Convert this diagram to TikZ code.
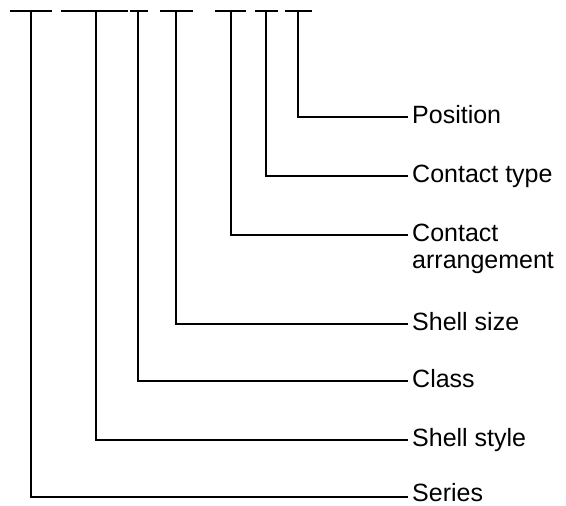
\documentclass[tikz,border=0pt]{standalone}
\usepackage{fontspec}
\setmainfont{Liberation Sans}
\usepackage{tikz}

\begin{document}
\begin{tikzpicture}[x=1pt,y=-1pt,
		label_style/.style={anchor=base west,inner sep=0pt,xshift=4pt,yshift=-6pt,align=left,font=\fontsize{25}{27}\selectfont},
		bar_style/.style={draw=black,line width=1.1pt},
		edge_style/.style={draw=black,line width=1.1pt}]

		\useasboundingbox (0,0) rectangle (566,506);

		% code bars on top
		\coordinate (b1l) at (10,11);  \coordinate (b1r) at (52,11);  \coordinate (s1) at (31,11);
		\coordinate (b2l) at (61,11);  \coordinate (b2r) at (128,11); \coordinate (s2) at (96,11);
		\coordinate (b3l) at (130,11); \coordinate (b3r) at (148,11); \coordinate (s3) at (138,11);
		\coordinate (b4l) at (160,11); \coordinate (b4r) at (193,11); \coordinate (s4) at (176,11);
		\coordinate (b5l) at (215,11); \coordinate (b5r) at (246,11); \coordinate (s5) at (231,11);
		\coordinate (b6l) at (255,11); \coordinate (b6r) at (278,11); \coordinate (s6) at (266,11);
		\coordinate (b7l) at (285,11); \coordinate (b7r) at (312,11); \coordinate (s7) at (298,11);

		% line ends
		\coordinate (e7) at (408,117);
		\coordinate (e6) at (408,176);
		\coordinate (e5) at (408,235);
		\coordinate (e4) at (408,324);
		\coordinate (e3) at (408,381);
		\coordinate (e2) at (408,440);
		\coordinate (e1) at (408,497);

		\node[label_style] (position) at (e7) {Position};
		\node[label_style] (ctype) at (e6) {Contact type};
		\node[label_style,yshift=-27pt] (carr) at (e5) {Contact\\arrangement};
		\node[label_style] (ssize) at (e4) {Shell size};
		\node[label_style] (class) at (e3) {Class};
		\node[label_style] (sstyle) at (e2) {Shell style};
		\node[label_style,yshift=2pt] (series) at (e1) {Series};

		\draw[bar_style] (b1l) -- (b1r);
		\draw[bar_style] (b2l) -- (b2r);
		\draw[bar_style] (b3l) -- (b3r);
		\draw[bar_style] (b4l) -- (b4r);
		\draw[bar_style] (b5l) -- (b5r);
		\draw[bar_style] (b6l) -- (b6r);
		\draw[bar_style] (b7l) -- (b7r);

		\draw[edge_style] (s1) |- (e1);
		\draw[edge_style] (s2) |- (e2);
		\draw[edge_style] (s3) |- (e3);
		\draw[edge_style] (s4) |- (e4);
		\draw[edge_style] (s5) |- (e5);
		\draw[edge_style] (s6) |- (e6);
		\draw[edge_style] (s7) |- (e7);

\end{tikzpicture}
\end{document}
